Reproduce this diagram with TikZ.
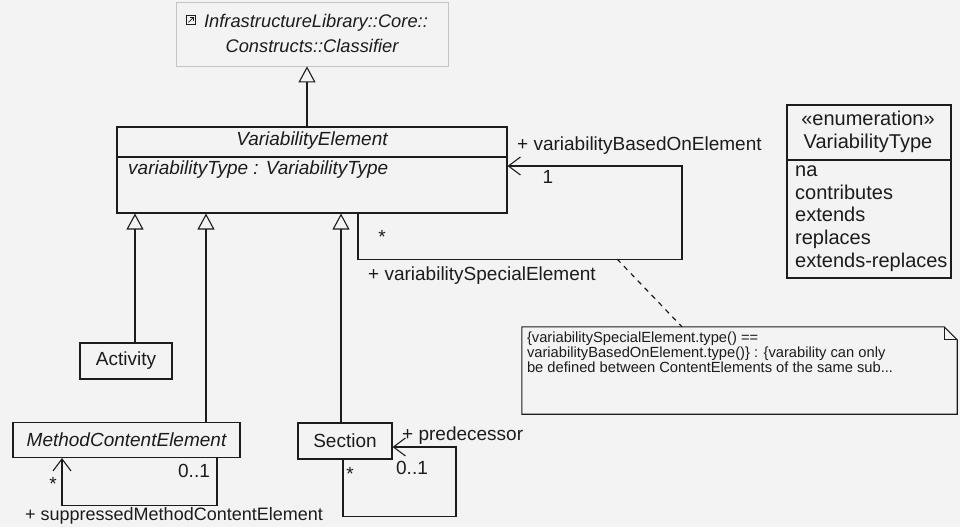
\documentclass[tikz,border=0pt]{standalone}
\usepackage{fontspec}
\setmainfont{Liberation Sans}
\usepackage{xcolor}
\usetikzlibrary{arrows.meta,positioning}
\definecolor{umlLine}{HTML}{1C1C1C}
\definecolor{umlFaint}{HTML}{C4C4C4}
\definecolor{umlPaper}{HTML}{F3F3F3}
\newcommand{\umlfont}{\fontsize{19}{23}\selectfont}
\newcommand{\clsfont}{\fontsize{18.3}{22}\selectfont}
\newcommand{\enumfont}{\fontsize{20}{23}\selectfont}
\newcommand{\rolefont}{\fontsize{18}{21}\selectfont}
\newcommand{\notefont}{\fontsize{14.7}{15}\selectfont}
\tikzset{
  cls/.style={rectangle, draw=umlLine, line width=1.1pt, inner sep=0pt, font=\umlfont, text=umlLine},
  faintcls/.style={cls, draw=umlFaint, line width=0.8pt},
  lbl/.style={inner sep=0pt, font=\umlfont, text=umlLine},
  importicon/.style={draw=umlLine, line width=0.7pt, minimum size=9pt, inner sep=0pt,
    path picture={\draw[line width=0.7pt]
      ([shift={(2pt,2pt)}]path picture bounding box.south west) --
      ([shift={(-2pt,-2pt)}]path picture bounding box.north east) -- ++(-3.5pt,0pt)
      ++(3.5pt,0pt) -- ++(0pt,-3.5pt);}},
  gen/.style={-{Triangle[open, length=16pt, width=17pt]}, draw=umlLine, line width=1.1pt},
  nav/.style={-{Straight Barb[length=12pt, width=18pt]}, draw=umlLine, line width=1.1pt},
  anchorline/.style={draw=umlLine, line width=1.2pt, dash pattern=on 5pt off 5pt},
}
\begin{document}
\begin{tikzpicture}[x=1pt, y=-1pt]
  \fill[umlPaper] (0,0) rectangle (960,527);
  \useasboundingbox (0,0) rectangle (960,527);

  % classes
  \node[faintcls, minimum width=272pt, minimum height=64pt] (classifier) at (312,34) {};
  \node[lbl, font=\clsfont\itshape, anchor=mid] (clsname1) at (316,25) {InfrastructureLibrary::Core::};
  \node[importicon, left=8pt of clsname1, yshift=3pt] (clsicon) {};
  \node[lbl, font=\clsfont\itshape, anchor=mid] (clsname2) at (312,50) {Constructs::Classifier};

  \node[cls, minimum width=390pt, minimum height=86pt] (varel) at (312,170) {};
  \node[lbl, font=\umlfont\itshape, anchor=mid] (varelname) at (312,143) {VariabilityElement};
  \node[lbl, font=\umlfont\itshape, anchor=mid west] (varelattr) at (128,172) {variabilityType : VariabilityType};
  \draw[umlLine, line width=1.1pt] (varel.west |- 0,157) -- (varel.east |- 0,157);

  \node[cls, minimum width=164pt, minimum height=173pt] (vtype) at (869,191.5) {};
  \node[lbl, font=\enumfont, anchor=mid] (vtypestereo) at (868,123) {«enumeration»};
  \node[lbl, font=\enumfont, anchor=mid] (vtypename) at (868,146) {VariabilityType};
  \draw[umlLine, line width=1.1pt] (vtype.west |- 0,160) -- (vtype.east |- 0,160);
  \node[lbl, font=\enumfont, anchor=mid west] (litna) at (795,174) {na};
  \node[lbl, font=\enumfont, anchor=mid west] (litcontrib) at (795,197) {contributes};
  \node[lbl, font=\enumfont, anchor=mid west] (litextends) at (795,219) {extends};
  \node[lbl, font=\enumfont, anchor=mid west] (litreplaces) at (795,242) {replaces};
  \node[lbl, font=\enumfont, anchor=mid west] (litextrepl) at (795,265) {extends-replaces};

  \node[cls, minimum width=92pt, minimum height=36pt] (activity) at (126,361) {Activity};
  \node[cls, font=\umlfont\itshape, minimum width=227pt, minimum height=35pt] (mce) at (126.5,440) {MethodContentElement};
  \node[cls, minimum width=94pt, minimum height=36pt] (section) at (345,441) {Section};

  % constraint note
  \node[minimum width=435pt, minimum height=87pt, inner sep=0pt] (note) at (739.5,370.5) {};
  \draw[umlLine, line width=1.1pt] (note.north west) -- ([xshift=-13pt]note.north east)
    -- ([yshift=-13pt]note.north east) -- (note.south east) -- (note.south west) -- cycle;
  \draw[umlLine, line width=0.9pt] ([xshift=-13pt]note.north east) -- ([xshift=-13pt, yshift=-13pt]note.north east)
    -- ([yshift=-13pt]note.north east);
  \node[lbl, font=\notefont, align=left, anchor=north west] (notetext) at ([xshift=5pt, yshift=-5pt]note.north west)
    {\{variabilitySpecialElement.type() ==\\
     variabilityBasedOnElement.type()\} : \{varability can only\\
     be defined between ContentElements of the same sub...};

  % generalizations
  \draw[gen] (varel.north -| 307,0) -- (classifier.south -| 307,0);
  \draw[gen] (activity.north -| 135,0) -- (varel.south -| 135,0);
  \draw[gen] (mce.north -| 206,0) -- (varel.south -| 206,0);
  \draw[gen] (section.north -| 341,0) -- (varel.south -| 341,0);

  % associations
  \draw[nav] (varel.south -| 358,0) -- ++(0,46) -- ++(324,0) |- (varel.east |- 0,166);
  \node[lbl, anchor=mid west] (rolebased) at (517,148) {+ variabilityBasedOnElement};
  \node[lbl, anchor=mid] (multbased) at (548,181) {1};
  \node[lbl, anchor=mid] (multspecial) at (382,241) {*};
  \node[lbl, anchor=mid west] (rolespecial) at (368,278) {+ variabilitySpecialElement};
  \coordinate (constraintpt) at (617,259);
  \draw[anchorline] (constraintpt) -- (note.north -| 682,0);

  \draw[nav] (mce.south -| 217,0) -- ++(0,47) -| (mce.south -| 62,0);
  \node[lbl, anchor=mid] (multsupp) at (53,488) {*};
  \node[lbl, anchor=mid] (multsuppb) at (194,475) {0..1};
  \node[lbl, font=\rolefont, anchor=mid west] (rolesupp) at (25,518) {+ suppressedMethodContentElement};

  \draw[nav] (section.south -| 343,0) -- ++(0,57) -- ++(113,0) |- (section.east |- 0,447);
  \node[lbl, anchor=mid] (multpred) at (350,478) {*};
  \node[lbl, anchor=mid] (multpredb) at (412,472) {0..1};
  \node[lbl, anchor=mid west] (rolepred) at (402,438) {+ predecessor};
\end{tikzpicture}
\end{document}
